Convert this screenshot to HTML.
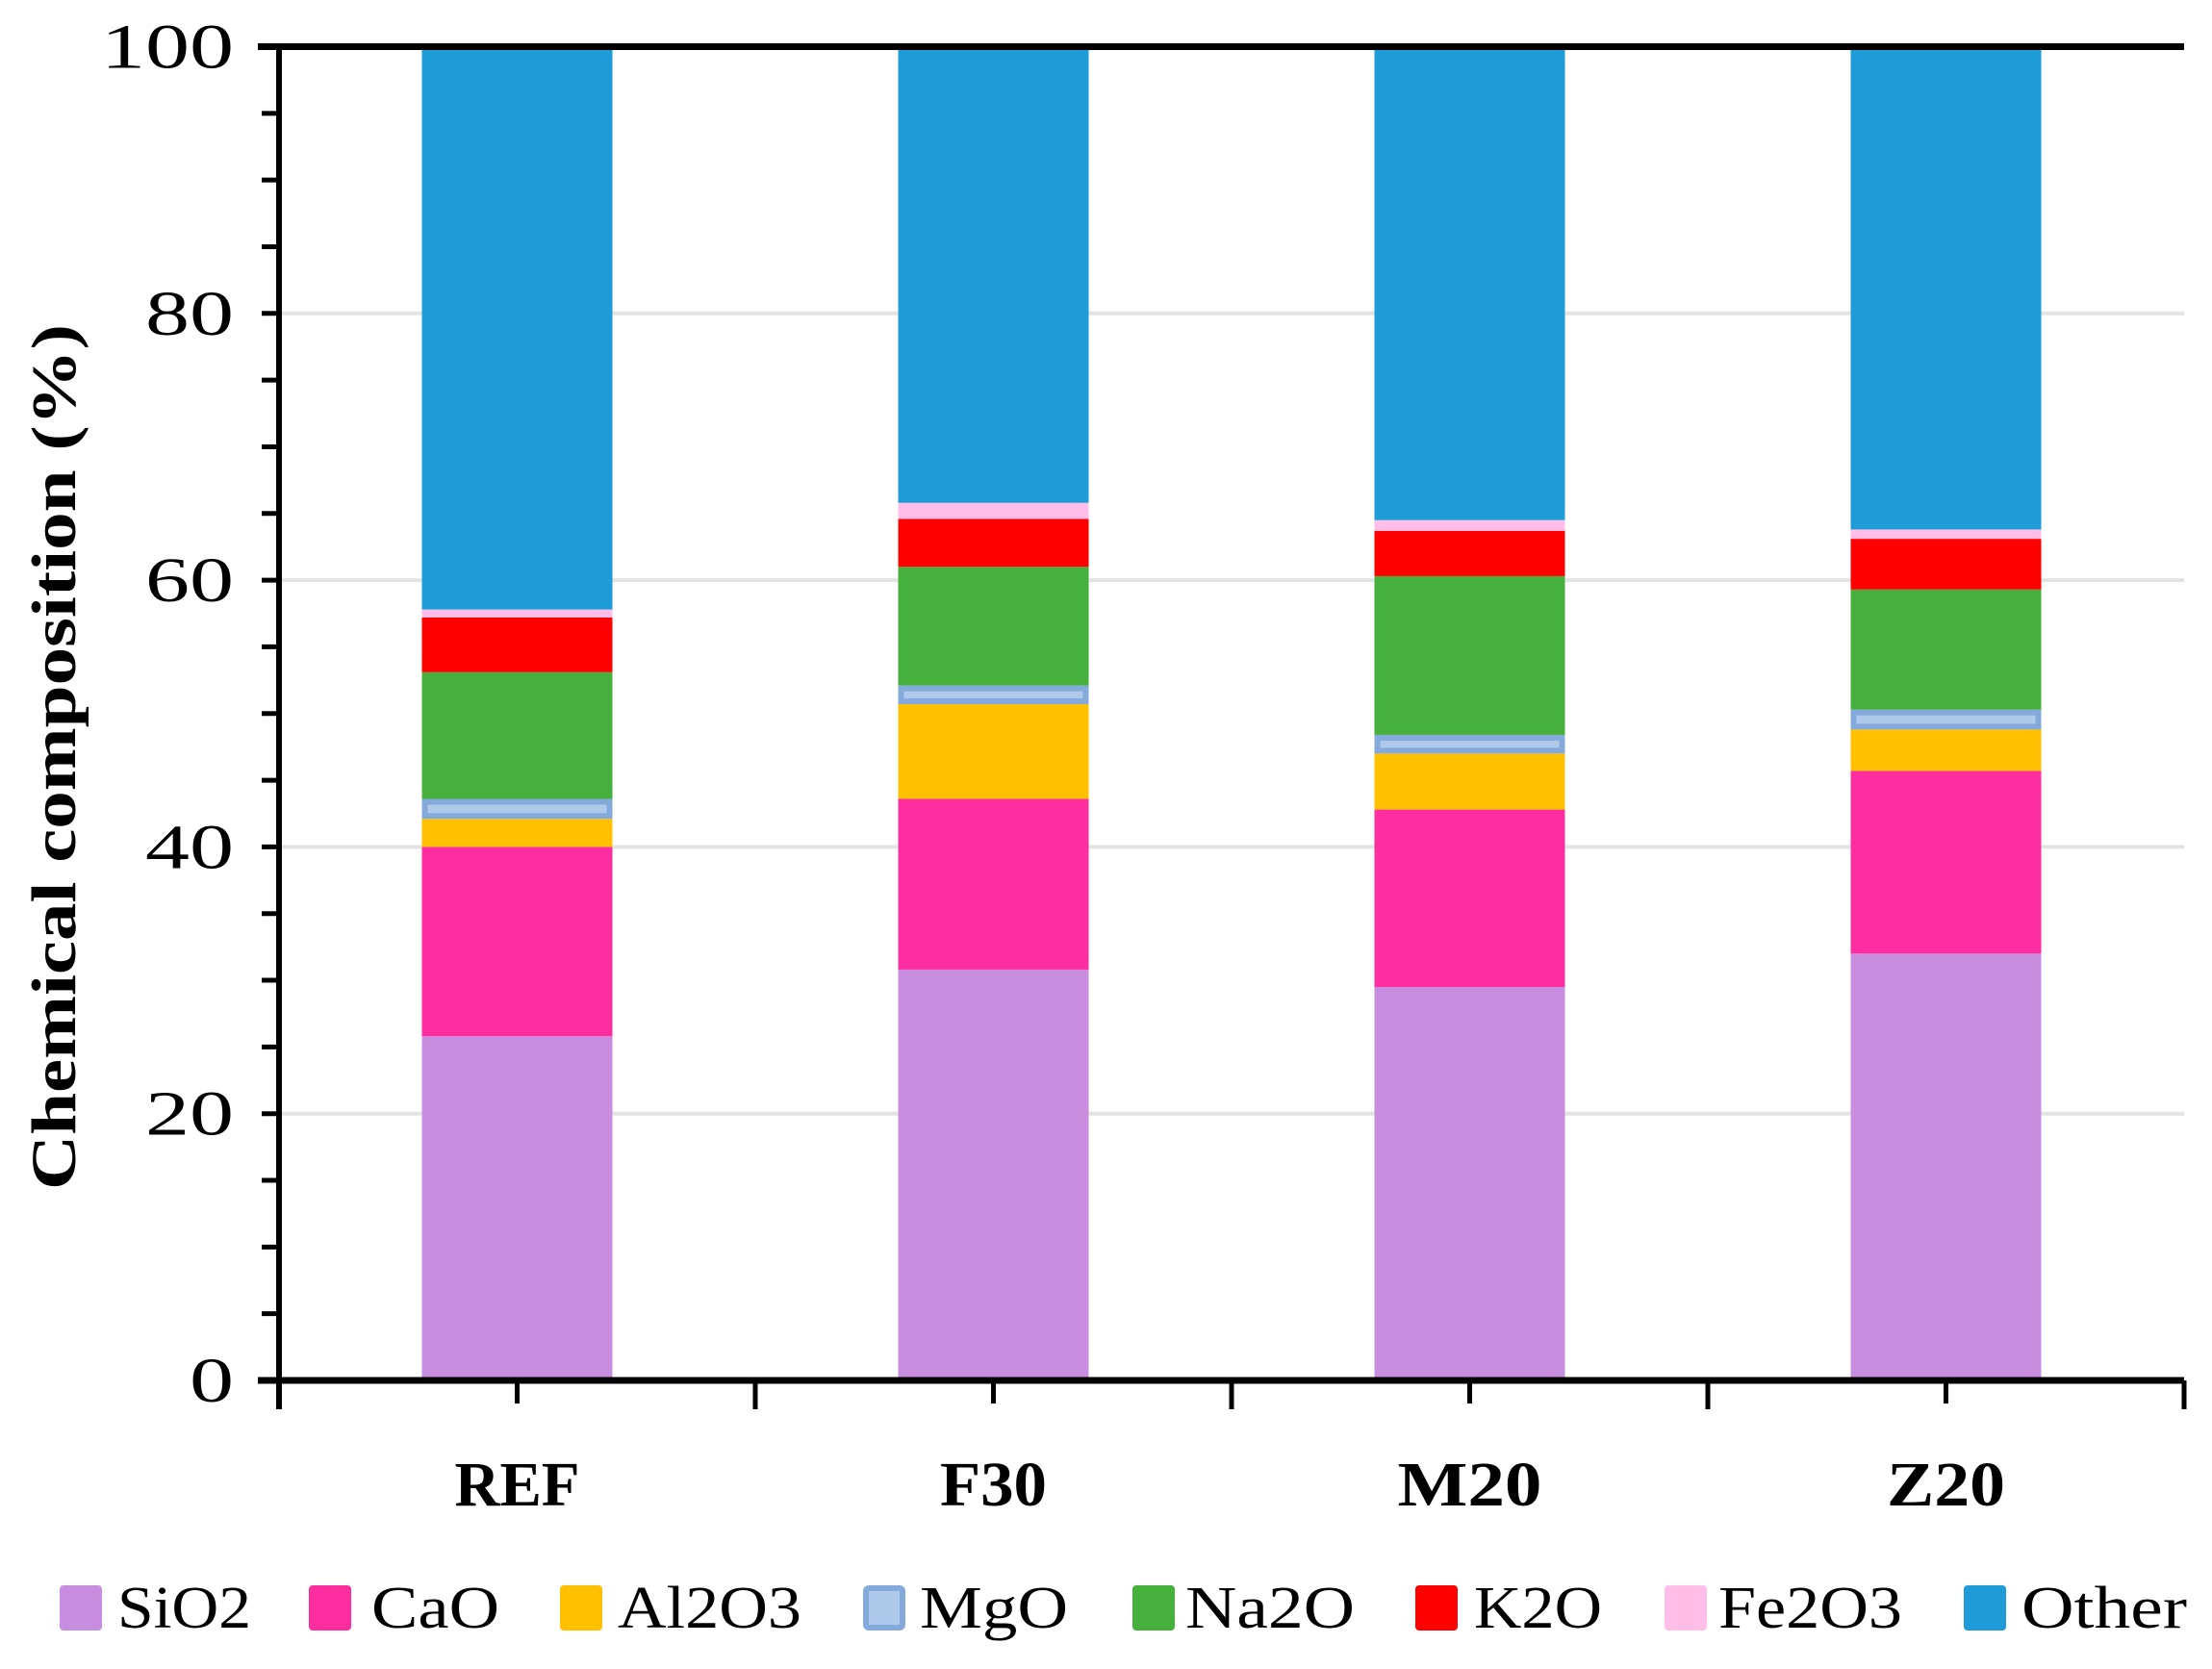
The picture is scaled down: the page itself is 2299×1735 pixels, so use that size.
<!DOCTYPE html>
<html><head><meta charset="utf-8"><style>
html,body{margin:0;padding:0;background:#fff;}
svg{display:block;}
text{font-family:"Liberation Serif",serif;fill:#000;}
</style></head><body>
<svg id="chart" width="2299" height="1735" viewBox="0 0 2299 1735" xmlns="http://www.w3.org/2000/svg">
<g id="grid"></g>
<g id="bars"></g>
<g id="axes"></g>
<g id="legend"></g>
<text x="0" y="0" transform="translate(78,787) rotate(-90)" text-anchor="middle" font-weight="bold" font-size="66" textLength="900" lengthAdjust="spacingAndGlyphs">Chemical composition (%)</text>
</svg>
<script>
const categories = ["REF","F30","M20","Z20"];
const seriesNames = ["SiO2","CaO","Al2O3","MgO","Na2O","K2O","Fe2O3","Other"];
const SiO2  = [25.8, 30.8, 29.5, 32.0];
const CaO   = [14.2, 12.8, 13.3, 13.7];
const Al2O3 = [2.1, 7.1, 4.2, 3.1];
const MgO   = [1.5, 1.4, 1.4, 1.5];
const Na2O  = [9.5, 8.9, 11.9, 9.0];
const K2O   = [4.1, 3.6, 3.4, 3.8];
const Fe2O3 = [0.6, 1.2, 0.8, 0.7];
const Other = [42.2, 34.2, 35.5, 36.2];
const yTicks = [0,20,40,60,80,100];

const series = [SiO2,CaO,Al2O3,MgO,Na2O,K2O,Fe2O3,Other];
const colors = ["#c98de0","#ff2ea0","#ffc000","#aec9ea","#45b03c","#ff0000","#ffbde8","#1e9cd8"];
const catW = [130,111,150,123];
const legW = [139,133,191,154,176,133,191,172];
const NS = "http://www.w3.org/2000/svg";
const X0 = 290, X1 = 2270, Y0 = 1435, Y100 = 48.5;
const yS = v => Y0 - (v/100)*(Y0-Y100);
const band = (X1-X0)/categories.length;
const xC = i => X0 + band*(i+0.5);
const bw = band*0.4;
function mk(tag, attrs, parent){const e=document.createElementNS(NS,tag);for(const k in attrs)e.setAttribute(k,attrs[k]);parent.appendChild(e);return e;}
const grid=document.getElementById('grid'), bars=document.getElementById('bars'), axes=document.getElementById('axes'), legend=document.getElementById('legend');

yTicks.forEach(t=>{
  if(t>0 && t<100){
    const g=mk('line',{x1:X0,x2:X1,y1:yS(t),y2:yS(t),stroke:'#e3e3e3','stroke-width':4},grid);
    
    
  }
  const s=String(t);
  const lb=mk('text',{x:243,y:yS(t)+22,'text-anchor':'end','font-size':66,textLength:s.length*46,lengthAdjust:'spacingAndGlyphs'},axes);
  lb.textContent=s;
  
  
});

categories.forEach((c,i)=>{
  let base=0;
  series.forEach((s,j)=>{
    const v=s[i];
    const yt=yS(base+v), yb=yS(base);
    let r;
    if(seriesNames[j]==="MgO"){
      r=mk('rect',{x:xC(i)-bw/2+3,y:yt+3,width:bw-6,height:Math.max(yb-yt-6,0),fill:colors[j],stroke:'#84aadc','stroke-width':6},bars);
    } else {
      r=mk('rect',{x:xC(i)-bw/2,y:yt,width:bw,height:yb-yt,fill:colors[j]},bars);
    }
    
    
    base+=v;
  });
  const cl=mk('text',{x:xC(i),y:1565,'text-anchor':'middle','font-size':66,'font-weight':'bold',textLength:catW[i],lengthAdjust:'spacingAndGlyphs'},axes);
  cl.textContent=c;
  
  
  const tk=mk('line',{x1:xC(i),x2:xC(i),y1:Y0,y2:Y0+24,stroke:'#000','stroke-width':5},axes);
  
  
});
for(let i=0;i<=categories.length;i++){
  const x=X0+band*i;
  const tk=mk('line',{x1:x,x2:x,y1:Y0,y2:Y0+30,stroke:'#000','stroke-width':5},axes);
  
  
}
for(let v=5;v<100;v+=5){
  const tk=mk('line',{x1:X0-18,x2:X0,y1:yS(v),y2:yS(v),stroke:'#000','stroke-width':5},axes);
  
  
}
const topLine=mk('line',{x1:X0-22,x2:X1,y1:Y100,y2:Y100,stroke:'#000','stroke-width':7},axes);


const ya=mk('line',{x1:X0,x2:X0,y1:Y100,y2:Y0+30,stroke:'#000','stroke-width':6},axes);


const xa=mk('line',{x1:X0-22,x2:X1,y1:Y0,y2:Y0,stroke:'#000','stroke-width':7},axes);



const swX=[62,321,582,897,1177,1471,1730,2041];
const txX=[122,386,642,956,1232,1532,1786,2101];
seriesNames.forEach((n,j)=>{
  let sw;
  if(n==="MgO"){
    sw=mk('rect',{x:swX[j]+3,y:1651,width:38,height:41,rx:3,fill:colors[j],stroke:'#84aadc','stroke-width':6},legend);
  } else {
    sw=mk('rect',{x:swX[j],y:1648,width:44,height:47,rx:4,fill:colors[j]},legend);
  }
  
  
  const t=mk('text',{x:txX[j],y:1692,'font-size':62,textLength:legW[j],lengthAdjust:'spacingAndGlyphs'},legend);
  t.textContent=n;
  
  
});
</script>
</body></html>
